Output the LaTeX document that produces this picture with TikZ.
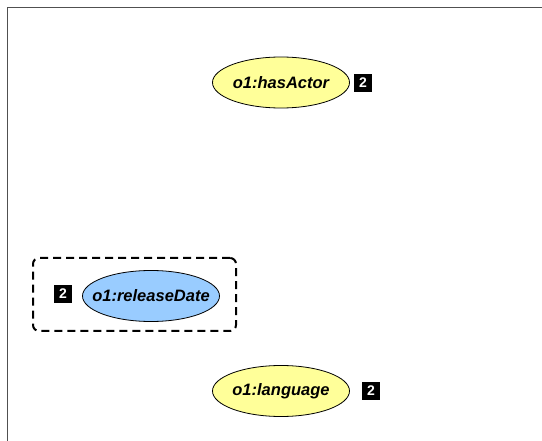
\documentclass[tikz,border=0pt]{standalone}
\usepackage{fontspec}
\setmainfont{Liberation Sans}
\usetikzlibrary{shapes.geometric}
\begin{document}
\begin{tikzpicture}[x=1pt,y=-1pt,
  prop/.style={draw=black,line width=0.8pt,ellipse,minimum width=137pt,minimum height=51pt,inner sep=0pt},
  yprop/.style={prop,fill={rgb,255:red,255;green,255;blue,153}},
  bprop/.style={prop,fill={rgb,255:red,153;green,204;blue,255}},
  ptext/.style={inner sep=0pt,font=\fontsize{16.5}{19}\selectfont\bfseries\itshape},
  card/.style={fill=black,text=white,minimum width=18.5pt,minimum height=18.5pt,inner sep=0pt,font=\fontsize{14}{16}\selectfont\bfseries},
  grp/.style={draw=black,line width=2pt,dash pattern=on 8pt off 5pt,rounded corners=6pt}]
\useasboundingbox (0,0) rectangle (542,441);
\draw[line width=1pt,draw={rgb,255:red,80;green,80;blue,80}] (7.5,441) -- (7.5,7.5) -- (542,7.5);
\node[yprop] (a) at (281,82.5) {};
\node[ptext] (at) at (a) {o1:hasActor};
\node[card] (ca) at (363,83) {2};
\node[grp,minimum width=203pt,minimum height=73pt] (g) at (134.5,294.5) {};
\node[bprop] (r) at (151,296) {};
\node[ptext] (rt) at (r) {o1:releaseDate};
\node[card] (cr) at (63,294) {2};
\node[yprop] (l) at (281,391) {};
\node[ptext] (lt) at (l) {o1:language};
\node[card] (cl) at (371,391) {2};
\end{tikzpicture}
\end{document}
